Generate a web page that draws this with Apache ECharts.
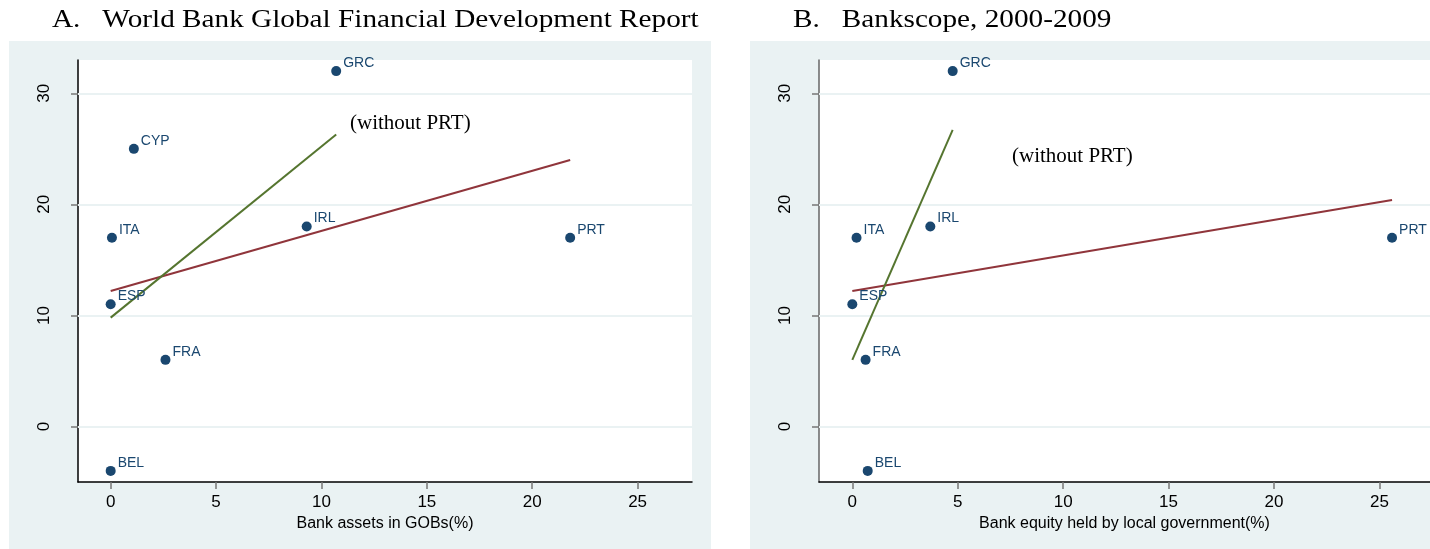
<!DOCTYPE html>
<html>
<head>
<meta charset="utf-8">
<script src="https://cdn.jsdelivr.net/npm/echarts@6/dist/echarts.min.js"></script>
<style>
  html, body { margin: 0; padding: 0; background: #fff; }
  #main { width: 1430px; height: 549px; }
</style>
</head>
<body>
<div id="main"></div>
<script>
// panel A: World Bank GFDR
const countriesA = ['GRC', 'CYP', 'ITA', 'IRL', 'PRT', 'ESP', 'FRA', 'BEL'];
const assetsA    = [10.7, 1.1, 0.06, 9.3, 21.8, 0, 2.6, 0];
const valuesA    = [32, 25, 17, 18, 17, 11, 6, -4];
const fitAllA    = [[0, 12.2], [21.8, 24.0]];
const fitNoPrtA  = [[0, 9.8], [10.7, 26.3]];

// panel B: Bankscope 2000-2009
const countriesB = ['GRC', 'ITA', 'IRL', 'PRT', 'ESP', 'FRA', 'BEL'];
const equityB    = [4.76, 0.2, 3.7, 25.6, 0, 0.63, 0.73];
const valuesB    = [32, 17, 18, 17, 11, 6, -4];
const fitAllB    = [[0, 12.2], [25.6, 20.4]];
const fitNoPrtB  = [[0, 6.0], [4.76, 26.7]];

const xTicks = [0, 5, 10, 15, 20, 25];
const yTicks = [0, 10, 20, 30];

const navy = '#1a476f';
const maroon = '#90353b';
const green = '#55752f';
const bgc = '#eaf2f3';

function pts(xs, ys, names) {
  return xs.map((x, i) => [x, ys[i], names[i]]);
}

function xAxisFor(idx, min, max, name) {
  return {
    gridIndex: idx, type: 'value', min: min, max: max,
    name: name, nameLocation: 'middle', nameGap: 31,
    nameTextStyle: { color: '#000', fontSize: 16, fontFamily: 'Liberation Sans' },
    axisLine: { show: true, onZero: false, lineStyle: { color: '#000', width: 1.5 } },
    axisTick: { show: true, customValues: xTicks, length: 7, lineStyle: { color: '#777', width: 1.5 } },
    axisLabel: { customValues: xTicks, margin: 12, color: '#000', fontSize: 17, fontFamily: 'Liberation Sans' },
    splitLine: { show: false }
  };
}

function yAxisFor(idx, lineColor) {
  return {
    gridIndex: idx, type: 'value', min: -5, max: 33,
    axisLine: { show: true, onZero: false, lineStyle: { color: lineColor, width: 1.5 } },
    axisTick: { show: true, customValues: yTicks, length: 7, lineStyle: { color: '#777', width: 1.5 } },
    axisLabel: { customValues: yTicks, rotate: 90, margin: 25, color: '#000', fontSize: 17, fontFamily: 'Liberation Sans' },
    splitLine: { show: false }
  };
}

function panelSeries(idx, points, fitAll, fitNoPrt) {
  return [
    {
      type: 'line', xAxisIndex: idx, yAxisIndex: idx, data: [], z: 1, silent: true,
      markLine: {
        silent: true, symbol: 'none', z: 1, label: { show: false },
        lineStyle: { color: bgc, width: 2, type: 'solid' },
        data: yTicks.map(v => ({ yAxis: v }))
      }
    },
    {
      type: 'line', xAxisIndex: idx, yAxisIndex: idx, data: fitAll, z: 3,
      showSymbol: false, lineStyle: { color: maroon, width: 2 }
    },
    {
      type: 'line', xAxisIndex: idx, yAxisIndex: idx, data: fitNoPrt, z: 3,
      showSymbol: false, lineStyle: { color: green, width: 2 }
    },
    {
      type: 'scatter', xAxisIndex: idx, yAxisIndex: idx, data: points, z: 4,
      symbolSize: 10, itemStyle: { color: navy, opacity: 1 },
      label: {
        show: true, position: 'right', distance: 2, offset: [0, -8],
        formatter: p => p.data[2], color: navy, fontSize: 14, fontFamily: 'Liberation Sans'
      }
    }
  ];
}

const chart = echarts.init(document.getElementById('main'));
chart.setOption({
  animation: false,
  backgroundColor: '#fff',
  graphic: [
    { type: 'rect', z: -10, shape: { x: 9, y: 41, width: 702, height: 508 }, style: { fill: bgc } },
    { type: 'rect', z: -10, shape: { x: 750, y: 41, width: 680, height: 508 }, style: { fill: bgc } },
    { type: 'text', x: 52, y: 8, scaleX: 1.17, style: { text: 'A.   World Bank Global Financial Development Report', font: '25px "Liberation Serif"', fill: '#000' } },
    { type: 'text', x: 793, y: 8, scaleX: 1.17, style: { text: 'B.   Bankscope, 2000-2009', font: '25px "Liberation Serif"', fill: '#000' } },
    { type: 'text', x: 350, y: 113, z: 10, style: { text: '(without PRT)', font: '21px "Liberation Serif"', fill: '#000' } },
    { type: 'text', x: 1012, y: 146, z: 10, style: { text: '(without PRT)', font: '21px "Liberation Serif"', fill: '#000' } }
  ],
  grid: [
    { left: 78, top: 60, width: 614, height: 422, show: true, backgroundColor: '#fff', borderWidth: 0 },
    { left: 819, top: 60, width: 611, height: 422, show: true, backgroundColor: '#fff', borderWidth: 0 }
  ],
  xAxis: [
    xAxisFor(0, -1.55, 27.58, 'Bank assets in GOBs(%)'),
    xAxisFor(1, -1.58, 27.4, 'Bank equity held by local government(%)')
  ],
  yAxis: [
    yAxisFor(0, '#000'),
    yAxisFor(1, '#666')
  ],
  series: [].concat(
    panelSeries(0, pts(assetsA, valuesA, countriesA), fitAllA, fitNoPrtA),
    panelSeries(1, pts(equityB, valuesB, countriesB), fitAllB, fitNoPrtB)
  )
});
</script>
</body>
</html>
